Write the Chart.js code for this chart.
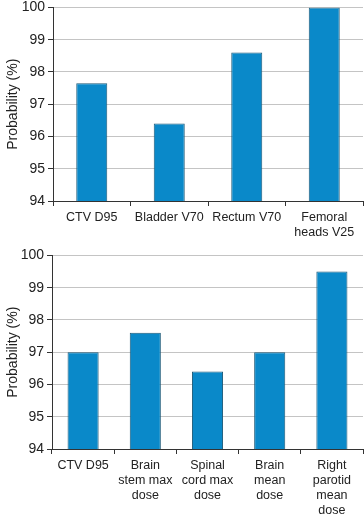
<!DOCTYPE html>
<html>
<head>
<meta charset="utf-8">
<script src="https://cdn.jsdelivr.net/npm/chart.js@4"></script>
<style>
  html, body { margin: 0; padding: 0; background: #fff; overflow: hidden; }
  .box { position: absolute; left: 0; width: 364px; }
  #top { top: -4px; height: 252px; }
  #bottom { top: 244px; height: 272px; }
</style>
</head>
<body>
<div class="box" id="top"><canvas id="c1"></canvas></div>
<div class="box" id="bottom"><canvas id="c2"></canvas></div>
<script>
const prostateLabels = ["CTV D95", "Bladder V70", "Rectum V70", ["Femoral", "heads V25"]]
const prostateValues = [97.65, 96.4, 98.6, 100]

const headNeckLabels = ["CTV D95", ["Brain", "stem max", "dose"], ["Spinal", "cord max", "dose"], ["Brain", "mean", "dose"], ["Right", "parotid", "mean", "dose"]]
const headNeckValues = [97.0, 97.6, 96.4, 97.0, 99.5]

const yTicks = [94, 95, 96, 97, 98, 99, 100]

const family = "'Liberation Sans', Arial, sans-serif"
const xFont = { family: family, size: 12.5, lineHeight: 1.2 }
const yFont = { family: family, size: 14 }

function makeChart(id, labels, values, barPct, xHeight, yWidth) {
  return new Chart(document.getElementById(id), {
    type: "bar",
    data: {
      labels: labels,
      datasets: [{
        data: values,
        backgroundColor: "#0a89c9",
        borderColor: "#1d5a78",
        borderWidth: 1,
        barPercentage: barPct,
        categoryPercentage: 1
      }]
    },
    options: {
      responsive: true,
      maintainAspectRatio: false,
      animation: false,
      layout: { padding: { top: 7, right: 1, left: 0, bottom: 0 } },
      plugins: { legend: { display: false }, tooltip: { enabled: false } },
      scales: {
        x: {
          grid: { drawOnChartArea: false, tickLength: 5, color: "#333", offset: true },
          border: { color: "#333", width: 1 },
          ticks: { color: "#222", font: xFont, padding: 4, maxRotation: 0, autoSkip: false },
          afterFit: s => { s.height = xHeight }
        },
        y: {
          min: 94,
          max: 100,
          afterBuildTicks: s => { s.ticks = yTicks.map(v => ({ value: v })) },
          grid: { color: "#c4c4c4", tickColor: "#333", tickLength: 5 },
          border: { color: "#333", width: 1 },
          ticks: { color: "#222", font: yFont, padding: 3 },
          title: { display: true, text: "Probability (%)", color: "#222", font: yFont, padding: { top: 5, bottom: 0 } },
          afterFit: s => { s.width = yWidth }
        }
      }
    }
  })
}

makeChart("c1", prostateLabels, prostateValues, 0.4, 47, 53)
makeChart("c2", headNeckLabels, headNeckValues, 0.5, 67, 52)
</script>
</body>
</html>
